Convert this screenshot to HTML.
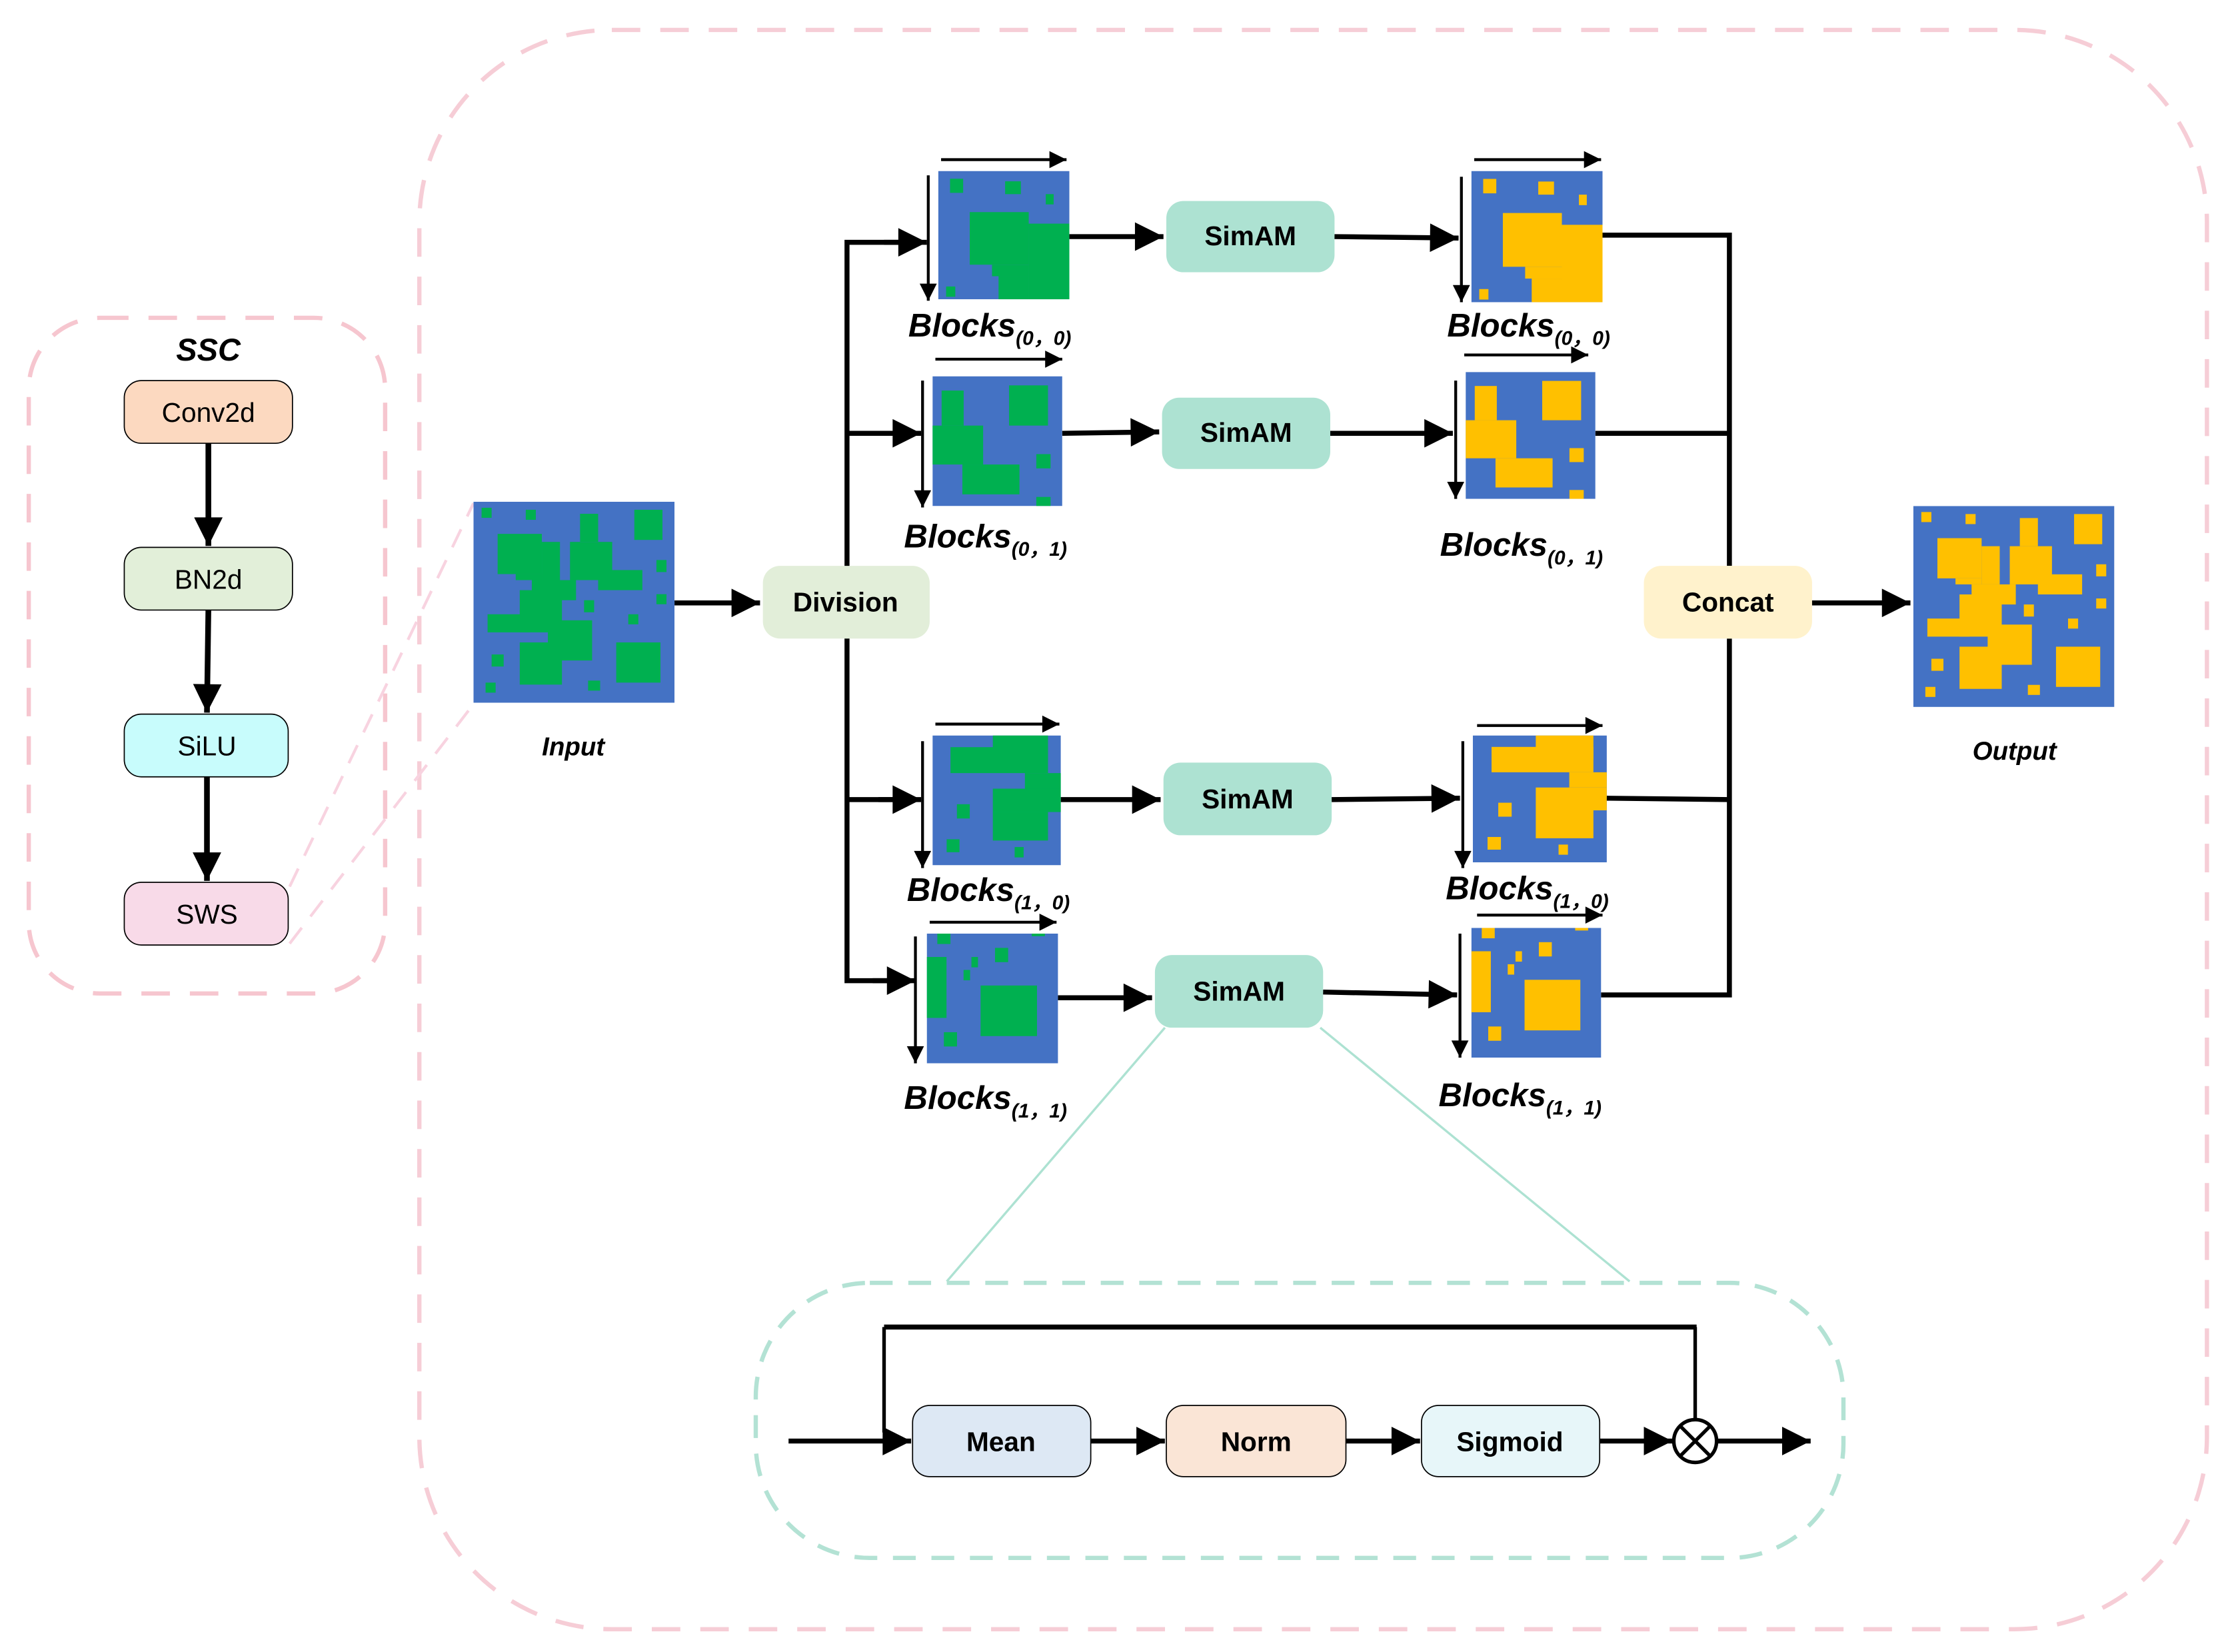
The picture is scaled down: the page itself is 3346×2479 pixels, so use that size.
<!DOCTYPE html>
<html><head><meta charset="utf-8"><style>
html,body{margin:0;padding:0;background:#fff;}
svg{display:block;}
text{font-family:"Liberation Sans",sans-serif;}
</style></head><body>
<svg width="3346" height="2479" viewBox="0 0 1564 1159" xmlns="http://www.w3.org/2000/svg">
<defs>
<marker id="ah" viewBox="0 0 10 10" refX="10" refY="5" markerUnits="userSpaceOnUse" markerWidth="22" markerHeight="20" orient="auto"><path d="M0,0 L10,5 L0,10 z" fill="#000"/></marker>
<marker id="as" viewBox="0 0 10 10" refX="10" refY="5" markerUnits="userSpaceOnUse" markerWidth="14" markerHeight="12" orient="auto"><path d="M0,0 L10,5 L0,10 z" fill="#000"/></marker>
<symbol id="big" viewBox="0 0 100 100" preserveAspectRatio="none">
<rect width="100" height="100" fill="#4472c4"/>
<g fill="currentColor">
<rect x="4" y="3" width="5" height="5"/><rect x="26" y="4" width="5" height="5"/><rect x="80" y="4" width="14" height="15"/>
<rect x="12" y="16" width="22" height="20"/><rect x="34" y="20" width="9" height="19"/><rect x="29" y="39" width="22" height="10"/>
<rect x="48" y="20" width="21" height="19"/><rect x="53" y="6" width="9" height="14"/><rect x="62" y="34" width="22" height="10"/>
<rect x="21" y="36" width="13" height="3"/>
<rect x="23" y="44" width="21" height="21"/><rect x="7" y="56" width="21" height="9"/><rect x="37" y="59" width="22" height="20"/>
<rect x="23" y="70" width="21" height="21"/>
<rect x="91" y="29" width="5" height="6"/><rect x="91" y="46" width="5" height="5"/><rect x="55" y="49" width="5" height="6"/>
<rect x="77" y="56" width="5" height="5"/><rect x="71" y="70" width="22" height="20"/><rect x="9" y="76" width="6" height="6"/>
<rect x="6" y="90" width="5" height="5"/><rect x="57" y="89" width="6" height="5"/>
</g></symbol>
<symbol id="b00" viewBox="0 0 100 100" preserveAspectRatio="none">
<rect width="100" height="100" fill="#4472c4"/><g fill="currentColor">
<rect x="9" y="6" width="10" height="11"/><rect x="51" y="8" width="12" height="10"/><rect x="82" y="18" width="6" height="8"/>
<rect x="24" y="32" width="45" height="41"/><rect x="69" y="41" width="31" height="59"/><rect x="41" y="73" width="28" height="9"/>
<rect x="46" y="82" width="23" height="18"/><rect x="6" y="90" width="7" height="8"/></g></symbol>
<symbol id="b01" viewBox="0 0 100 100" preserveAspectRatio="none">
<rect width="100" height="100" fill="#4472c4"/><g fill="currentColor">
<rect x="7" y="11" width="17" height="27"/><rect x="0" y="38" width="39" height="30"/><rect x="23" y="68" width="44" height="23"/>
<rect x="59" y="7" width="30" height="31"/><rect x="80" y="60" width="11" height="11"/><rect x="80" y="93" width="11" height="7"/></g></symbol>
<symbol id="b10" viewBox="0 0 100 100" preserveAspectRatio="none">
<rect width="100" height="100" fill="#4472c4"/><g fill="currentColor">
<rect x="47" y="0" width="43" height="19"/><rect x="14" y="9" width="76" height="20"/><rect x="72" y="29" width="28" height="12"/>
<rect x="47" y="41" width="53" height="18"/><rect x="47" y="59" width="43" height="22"/><rect x="19" y="53" width="10" height="11"/>
<rect x="11" y="80" width="10" height="10"/><rect x="64" y="86" width="7" height="8"/></g></symbol>
<symbol id="b11" viewBox="0 0 100 100" preserveAspectRatio="none">
<rect width="100" height="100" fill="#4472c4"/><g fill="currentColor">
<rect x="8" y="0" width="10" height="8"/><rect x="80" y="0" width="10" height="2"/><rect x="52" y="11" width="10" height="11"/>
<rect x="0" y="18" width="15" height="47"/><rect x="34" y="18" width="5" height="8"/><rect x="28" y="28" width="5" height="8"/>
<rect x="41" y="40" width="43" height="39"/><rect x="13" y="76" width="10" height="11"/></g></symbol>
</defs>

<!-- outer dashed container -->
<rect x="294" y="21" width="1254" height="1122" rx="135" fill="none" stroke="#f6cdd6" stroke-width="3" stroke-dasharray="20,14"/>
<!-- SSC -->
<rect x="20" y="223" width="250" height="474" rx="50" fill="none" stroke="#f6c6cf" stroke-width="3" stroke-dasharray="20,14"/>
<text x="146" y="253" font-size="22" font-weight="bold" font-style="italic" text-anchor="middle">SSC</text>
<rect x="87" y="267" width="118" height="44" rx="12" fill="#fcd9c0" stroke="#000" stroke-width="0.8"/>
<text x="146" y="296" font-size="19" text-anchor="middle">Conv2d</text>
<rect x="87" y="384" width="118" height="44" rx="12" fill="#e2efd9" stroke="#000" stroke-width="0.8"/>
<text x="146" y="413" font-size="19" text-anchor="middle">BN2d</text>
<rect x="87" y="501" width="115" height="44" rx="12" fill="#c8fcfc" stroke="#000" stroke-width="0.8"/>
<text x="145" y="530" font-size="19" text-anchor="middle">SiLU</text>
<rect x="87" y="619" width="115" height="44" rx="12" fill="#f8dae8" stroke="#000" stroke-width="0.8"/>
<text x="145" y="648" font-size="19" text-anchor="middle">SWS</text>
<g stroke="#000" stroke-width="4" fill="none">
<line x1="146" y1="311" x2="146" y2="383" marker-end="url(#ah)"/>
<line x1="146" y1="428" x2="145" y2="500" marker-end="url(#ah)"/>
<line x1="145" y1="545" x2="145" y2="618" marker-end="url(#ah)"/>
</g>
<g stroke="#f8d3e0" stroke-width="2" stroke-dasharray="14,10">
<line x1="203" y1="622" x2="332" y2="353"/>
<line x1="203" y1="662" x2="332" y2="494"/>
</g>

<!-- input -->
<use href="#big" x="332" y="352" width="141" height="141" color="#00b050"/>
<text x="402" y="530" font-size="18" font-weight="bold" font-style="italic" text-anchor="middle">Input</text>
<line x1="473" y1="423" x2="533" y2="423" stroke="#000" stroke-width="3.5" marker-end="url(#ah)"/>
<rect x="535" y="397" width="117" height="51" rx="12" fill="#e2eed9"/>
<text x="593" y="429" font-size="19" font-weight="bold" text-anchor="middle">Division</text>

<!-- division tree -->
<g stroke="#000" stroke-width="3.5" fill="none">
<polyline points="594,397 594,170 640,170"/>
<line x1="594" y1="304" x2="636" y2="304"/>
<polyline points="594,448 594,688 636,688"/>
<line x1="594" y1="561" x2="636" y2="561"/>
</g>
<g stroke="#000" stroke-width="3.5">
<line x1="620" y1="170" x2="650" y2="170" marker-end="url(#ah)"/>
<line x1="616" y1="304" x2="646" y2="304" marker-end="url(#ah)"/>
<line x1="616" y1="561" x2="646" y2="561" marker-end="url(#ah)"/>
<line x1="612" y1="688" x2="642" y2="688" marker-end="url(#ah)"/>
</g>

<!-- input blocks -->
<use href="#b00" x="658" y="120" width="92" height="90" color="#00b050"/>
<use href="#b01" x="654" y="264" width="91" height="91" color="#00b050"/>
<use href="#b10" x="654" y="516" width="90" height="91" color="#00b050"/>
<use href="#b11" x="650" y="655" width="92" height="91" color="#00b050"/>
<!-- output blocks -->
<use href="#b00" x="1032" y="120" width="92" height="92" color="#ffc000"/>
<use href="#b01" x="1028" y="261" width="91" height="89" color="#ffc000"/>
<use href="#b10" x="1033" y="516" width="94" height="89" color="#ffc000"/>
<use href="#b11" x="1032" y="651" width="91" height="91" color="#ffc000"/>

<!-- block axis arrows -->
<g stroke="#000" stroke-width="2">
<line x1="651" y1="123" x2="651" y2="211" marker-end="url(#as)"/><line x1="660" y1="112" x2="748" y2="112" marker-end="url(#as)"/>
<line x1="647" y1="267" x2="647" y2="356" marker-end="url(#as)"/><line x1="656" y1="252" x2="745" y2="252" marker-end="url(#as)"/>
<line x1="647" y1="520" x2="647" y2="609" marker-end="url(#as)"/><line x1="656" y1="508" x2="743" y2="508" marker-end="url(#as)"/>
<line x1="642" y1="657" x2="642" y2="746" marker-end="url(#as)"/><line x1="652" y1="647" x2="741" y2="647" marker-end="url(#as)"/>
<line x1="1025" y1="124" x2="1025" y2="212" marker-end="url(#as)"/><line x1="1034" y1="112" x2="1123" y2="112" marker-end="url(#as)"/>
<line x1="1021" y1="267" x2="1021" y2="350" marker-end="url(#as)"/><line x1="1027" y1="249" x2="1114" y2="249" marker-end="url(#as)"/>
<line x1="1026" y1="520" x2="1026" y2="609" marker-end="url(#as)"/><line x1="1036" y1="509" x2="1124" y2="509" marker-end="url(#as)"/>
<line x1="1024" y1="655" x2="1024" y2="742" marker-end="url(#as)"/><line x1="1036" y1="642" x2="1124" y2="642" marker-end="url(#as)"/>
</g>

<!-- SimAM boxes -->
<g fill="#ade2d2">
<rect x="818" y="141" width="118" height="50" rx="12"/>
<rect x="815" y="279" width="118" height="50" rx="12"/>
<rect x="816" y="535" width="118" height="51" rx="12"/>
<rect x="810" y="670" width="118" height="51" rx="12"/>
</g>
<g font-size="19" font-weight="bold" text-anchor="middle">
<text x="877" y="172">SimAM</text><text x="874" y="310">SimAM</text>
<text x="875" y="567">SimAM</text><text x="869" y="702">SimAM</text>
</g>
<g stroke="#000" stroke-width="3.5">
<line x1="750" y1="166" x2="816" y2="166" marker-end="url(#ah)"/>
<line x1="745" y1="304" x2="813" y2="303" marker-end="url(#ah)"/>
<line x1="744" y1="561" x2="814" y2="561" marker-end="url(#ah)"/>
<line x1="742" y1="700" x2="808" y2="700" marker-end="url(#ah)"/>
<line x1="936" y1="166" x2="1023" y2="167" marker-end="url(#ah)"/>
<line x1="933" y1="304" x2="1019" y2="304" marker-end="url(#ah)"/>
<line x1="934" y1="561" x2="1024" y2="560" marker-end="url(#ah)"/>
<line x1="928" y1="696" x2="1022" y2="698" marker-end="url(#ah)"/>
</g>
<g stroke="#000" stroke-width="3.5" fill="none">
<polyline points="1124,165 1213,165 1213,397"/>
<line x1="1119" y1="304" x2="1213" y2="304"/>
<polyline points="1213,448 1213,698 1123,698"/>
<line x1="1127" y1="560" x2="1213" y2="561"/>
</g>
<rect x="1153" y="397" width="118" height="51" rx="12" fill="#fff2cc"/>
<text x="1212" y="429" font-size="19" font-weight="bold" text-anchor="middle">Concat</text>
<line x1="1271" y1="423" x2="1340" y2="423" stroke="#000" stroke-width="3.5" marker-end="url(#ah)"/>
<use href="#big" x="1342" y="355" width="141" height="141" color="#ffc000"/>
<text x="1413" y="533" font-size="18" font-weight="bold" font-style="italic" text-anchor="middle">Output</text>

<!-- Blocks labels -->
<g font-weight="bold" font-style="italic">
<text x="637" y="236" font-size="23">Blocks<tspan font-size="14" dy="6">(0，0)</tspan></text>
<text x="1015" y="236" font-size="23">Blocks<tspan font-size="14" dy="6">(0，0)</tspan></text>
<text x="634" y="384" font-size="23">Blocks<tspan font-size="14" dy="6">(0，1)</tspan></text>
<text x="1010" y="390" font-size="23">Blocks<tspan font-size="14" dy="6">(0，1)</tspan></text>
<text x="636" y="632" font-size="23">Blocks<tspan font-size="14" dy="6">(1，0)</tspan></text>
<text x="1014" y="631" font-size="23">Blocks<tspan font-size="14" dy="6">(1，0)</tspan></text>
<text x="634" y="778" font-size="23">Blocks<tspan font-size="14" dy="6">(1，1)</tspan></text>
<text x="1009" y="776" font-size="23">Blocks<tspan font-size="14" dy="6">(1，1)</tspan></text>
</g>

<!-- SimAM detail -->
<g stroke="#ade2d2" stroke-width="1.6">
<line x1="817" y1="721" x2="664" y2="899"/>
<line x1="926" y1="721" x2="1143" y2="899"/>
</g>
<rect x="530" y="900" width="763" height="193" rx="80" fill="none" stroke="#b3e2d4" stroke-width="3" stroke-dasharray="16,11"/>
<rect x="640" y="986" width="125" height="50" rx="12" fill="#dde8f4" stroke="#000" stroke-width="0.8"/>
<rect x="818" y="986" width="126" height="50" rx="12" fill="#fae5d6" stroke="#000" stroke-width="0.8"/>
<rect x="997" y="986" width="125" height="50" rx="12" fill="#e7f6f9" stroke="#000" stroke-width="0.8"/>
<g font-size="19" font-weight="bold" text-anchor="middle">
<text x="702" y="1018">Mean</text><text x="881" y="1018">Norm</text><text x="1059" y="1018">Sigmoid</text>
</g>
<g stroke="#000" stroke-width="3.5" fill="none">
<line x1="553" y1="1011" x2="639" y2="1011" marker-end="url(#ah)"/>
<line x1="765" y1="1011" x2="817" y2="1011" marker-end="url(#ah)"/>
<line x1="944" y1="1011" x2="996" y2="1011" marker-end="url(#ah)"/>
<line x1="1122" y1="1011" x2="1173" y2="1011" marker-end="url(#ah)"/>
<line x1="1205" y1="1011" x2="1270" y2="1011" marker-end="url(#ah)"/>
<line x1="620" y1="931" x2="1190" y2="931"/>
</g>
<g stroke="#000" stroke-width="2.5" fill="none">
<polyline points="620,1005 620,931"/>
<line x1="1189" y1="931" x2="1189" y2="996"/>
<circle cx="1189" cy="1011" r="15" fill="#fff"/>
<line x1="1178" y1="1000" x2="1200" y2="1022"/>
<line x1="1200" y1="1000" x2="1178" y2="1022"/>
</g>
</svg>
</body></html>
